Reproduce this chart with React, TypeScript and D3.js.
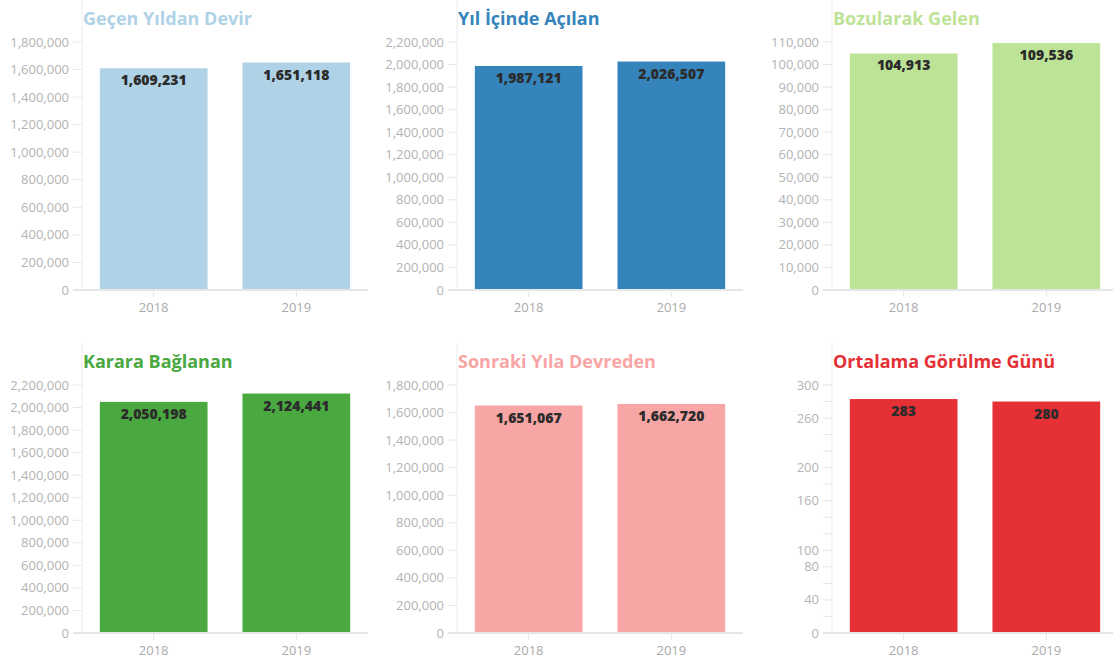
import React from "react";
import * as d3 from "d3";

const years = ["2018", "2019"];
const titles = [
  "Geçen Yıldan Devir",
  "Yıl İçinde Açılan",
  "Bozularak Gelen",
  "Karara Bağlanan",
  "Sonraki Yıla Devreden",
  "Ortalama Görülme Günü",
];
const colors = ["#afd2e6", "#3584bb", "#bde396", "#49a83f", "#f8a6a5", "#e53035"];
const gecenYildanDevir = [1609231, 1651118];
const yilIcindeAcilan = [1987121, 2026507];
const bozularakGelen = [104913, 109536];
const kararaBaglanan = [2050198, 2124441];
const sonrakiYilaDevreden = [1651067, 1662720];
const ortalamaGorulmeGunu = [283, 280];
const seriesList = [
  gecenYildanDevir,
  yilIcindeAcilan,
  bozularakGelen,
  kararaBaglanan,
  sonrakiYilaDevreden,
  ortalamaGorulmeGunu,
];
const yMax = [1800000, 2200000, 110000, 2200000, 1800000, 300];
const yStep = [200000, 200000, 10000, 200000, 200000, 20];
const lastPanelTickLabels = [0, 40, 80, 100, 160, 200, 260, 300];

const FONT = "'Open Sans', 'Noto Sans', sans-serif";
const fmt = d3.format(",");

const PANEL_W = 286;
const PLOT_H = 248;
const COL_X = [82, 457, 832];
const ROW_Y = [0, 343];
const PLOT_TOP = 42;

function Panel({ idx }: { idx: number }) {
  const col = idx % 3;
  const row = Math.floor(idx / 3);
  const ox = COL_X[col];
  const oy = ROW_Y[row];
  const values = seriesList[idx];
  const x = d3
    .scaleBand<string>()
    .domain(years)
    .range([0, PANEL_W])
    .paddingInner(0.245)
    .paddingOuter(0.125);
  const y = d3.scaleLinear().domain([0, yMax[idx]]).range([PLOT_H, 0]);
  const ticks = d3.range(0, yMax[idx] + yStep[idx] / 2, yStep[idx]);
  const labelSet = idx === 5 ? new Set(lastPanelTickLabels) : null;
  const color = colors[idx];
  return (
    <g transform={`translate(${ox},${oy})`}>
      <line x1={0} x2={0} y1={0} y2={PLOT_TOP + PLOT_H} stroke="#ececec" strokeWidth={1} />
      <text x={1} y={25} fontFamily={FONT} fontWeight={700} fontSize={18} fill={color}>
        {titles[idx]}
      </text>
      <g transform={`translate(0,${PLOT_TOP})`}>
        {ticks.map((t) => (
          <g key={t} transform={`translate(0,${y(t)})`}>
            <line x1={-9} x2={0} stroke="#e6e6e6" strokeWidth={1} />
            {(!labelSet || labelSet.has(t)) && (
              <text
                x={-13}
                dy="0.35em"
                textAnchor="end"
                fontFamily={FONT}
                fontSize={13}
                fill="#b3b3b3"
              >
                {fmt(t)}
              </text>
            )}
          </g>
        ))}
        {values.map((v, i) => {
          const bx = x(years[i])!;
          const top = y(v);
          return (
            <g key={years[i]}>
              <rect x={bx} y={top} width={x.bandwidth()} height={PLOT_H - top} fill={color} />
              <text
                x={bx + x.bandwidth() / 2}
                y={top + 17}
                textAnchor="middle"
                fontFamily={FONT}
                fontWeight={800}
                fontSize={14}
                fill="#2b2b2b"
              >
                {fmt(v)}
              </text>
            </g>
          );
        })}
        <line x1={-9} x2={PANEL_W} y1={PLOT_H} y2={PLOT_H} stroke="#e6e6e6" strokeWidth={2} />
        {years.map((yr) => {
          const cx = x(yr)! + x.bandwidth() / 2;
          return (
            <g key={yr}>
              <line x1={cx} x2={cx} y1={PLOT_H} y2={PLOT_H + 7} stroke="#e6e6e6" strokeWidth={1} />
              <text
                x={cx}
                y={PLOT_H + 22}
                textAnchor="middle"
                fontFamily={FONT}
                fontSize={13}
                fill="#aaaaaa"
              >
                {yr}
              </text>
            </g>
          );
        })}
      </g>
    </g>
  );
}

export default function App() {
  return (
    <svg
      width={1113}
      height={660}
      style={{ position: "absolute", left: 0, top: 0, background: "#fff" }}
    >
      {titles.map((_, i) => (
        <Panel key={i} idx={i} />
      ))}
    </svg>
  );
}
